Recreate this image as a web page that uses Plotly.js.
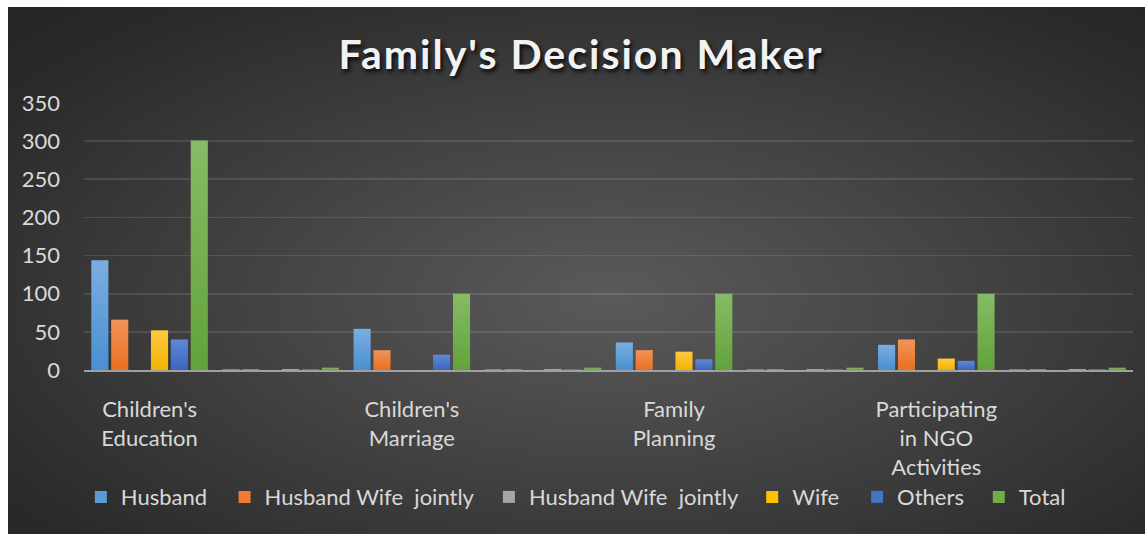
<!DOCTYPE html>
<html>
<head>
<meta charset="utf-8">
<script src="https://cdn.plot.ly/plotly-3.0.1.min.js"></script>
<style>
  html, body { margin: 0; padding: 0; background: #ffffff; }
  #chart {
    position: absolute; left: 8px; top: 7px; width: 1137px; height: 527px;
    background: radial-gradient(ellipse farthest-corner at 53% 55%, #5a5a5a 0%, #444444 40%, #2a2a2a 85%, #252525 100%);
  }
  #defs { position: absolute; width: 0; height: 0; overflow: hidden; }
  .gtitle { letter-spacing: 2px; }
  #chart .barlayer .trace:nth-child(1) path { fill: url(#g0) !important; }
  #chart .barlayer .trace:nth-child(2) path { fill: url(#g1) !important; }
  #chart .barlayer .trace:nth-child(3) path { fill: url(#g2) !important; }
  #chart .barlayer .trace:nth-child(4) path { fill: url(#g3) !important; }
  #chart .barlayer .trace:nth-child(5) path { fill: url(#g4) !important; }
  #chart .barlayer .trace:nth-child(6) path { fill: url(#g5) !important; }
</style>
</head>
<body>
<svg id="defs" aria-hidden="true">
  <defs>
    <linearGradient id="g0" x1="0" y1="0" x2="0" y2="1"><stop offset="0" stop-color="#7aaee0"/><stop offset="1" stop-color="#4a8fd0"/></linearGradient>
    <linearGradient id="g1" x1="0" y1="0" x2="0" y2="1"><stop offset="0" stop-color="#f2945c"/><stop offset="1" stop-color="#e8701f"/></linearGradient>
    <linearGradient id="g2" x1="0" y1="0" x2="0" y2="1"><stop offset="0" stop-color="#b5b5b5"/><stop offset="1" stop-color="#959595"/></linearGradient>
    <linearGradient id="g3" x1="0" y1="0" x2="0" y2="1"><stop offset="0" stop-color="#ffc942"/><stop offset="1" stop-color="#f0b400"/></linearGradient>
    <linearGradient id="g4" x1="0" y1="0" x2="0" y2="1"><stop offset="0" stop-color="#5f89d6"/><stop offset="1" stop-color="#3a66bf"/></linearGradient>
    <linearGradient id="g5" x1="0" y1="0" x2="0" y2="1"><stop offset="0" stop-color="#86bc66"/><stop offset="1" stop-color="#62a23a"/></linearGradient>
  </defs>
</svg>
<div id="chart"></div>
<script>
// ---- data ----
const categories = ["Children's<br>Education", "", "Children's<br>Marriage", "", "Family<br>Planning", "", "Participating<br>in NGO<br>Activities", ""];
const seriesNames = ["Husband", "Husband Wife\u00a0 jointly", "Husband Wife\u00a0 jointly", "Wife", "Others", "Total"];
const husband      = [144, 1, 54, 1, 36, 1, 33, 1];
const husbandWife  = [66, 1, 26, 1, 26, 1, 40, 1];
const husbandWife2 = [0, 0, 0, 0, 0, 0, 0, 0];
const wife         = [52, 1, 0, 1, 24, 1, 15, 1];
const others       = [40, 1, 20, 1, 14, 1, 12, 1];
const total        = [301, 3, 100, 3, 100, 3, 100, 3];
const yTicks = [0, 50, 100, 150, 200, 250, 300, 350];

const seriesValues = [husband, husbandWife, husbandWife2, wife, others, total];
const seriesColors = ["#5B9BD5", "#ED7D31", "#A5A5A5", "#FFC000", "#4472C4", "#70AD47"];

const xIdx = categories.map((c, i) => i);
const FONT = "Lato, 'Open Sans', sans-serif";

// legend item positions (paper x fraction) – one legend per series
const legendX = [-0.003, 0.134, 0.386, 0.637, 0.737, 0.853];
const legendKeys = ["legend", "legend2", "legend3", "legend4", "legend5", "legend6"];

const traces = seriesValues.map((vals, k) => ({
  type: "bar",
  name: seriesNames[k],
  x: xIdx,
  y: vals,
  legend: legendKeys[k],
  marker: { color: seriesColors[k], line: { width: 0 } },
  hoverinfo: "x+y+name"
}));

const layout = {
  width: 1137,
  height: 527,
  paper_bgcolor: "rgba(0,0,0,0)",
  plot_bgcolor: "rgba(0,0,0,0)",
  margin: { l: 76, r: 12, t: 96, b: 164 },
  barmode: "group",
  bargap: 0.09,
  bargroupgap: 0.14,
  title: {
    text: "Family's Decision Maker",
    x: 0.504, xanchor: "center",
    y: 0.909, yanchor: "middle", yref: "container",
    font: { family: FONT, size: 41, color: "#f2f2f2", weight: 700, shadow: "2px 3px 4px rgba(0,0,0,0.85)" }
  },
  xaxis: {
    tickmode: "array",
    tickvals: xIdx,
    ticktext: categories,
    range: [-0.5, categories.length - 0.5],
    showgrid: false,
    zeroline: false,
    showline: true,
    linecolor: "#a0a0a0",
    linewidth: 2,
    ticks: "",
    ticklabelstandoff: 19,
    tickfont: { family: FONT, size: 22, color: "#d9d9d9" },
    fixedrange: true
  },
  yaxis: {
    range: [0, 350],
    tickmode: "array",
    tickvals: yTicks,
    ticktext: yTicks.map(String),
    showgrid: true,
    gridcolor: "rgba(255,255,255,0.11)",
    gridwidth: 1.6,
    zeroline: false,
    showline: false,
    ticks: "",
    ticklabelstandoff: 23,
    tickfont: { family: FONT, size: 22, color: "#d9d9d9" },
    fixedrange: true
  },
  showlegend: true
};

legendKeys.forEach((key, k) => {
  layout[key] = {
    orientation: "h",
    x: legendX[k], xanchor: "left",
    y: -0.476, yanchor: "middle",
    font: { family: FONT, size: 22, color: "#d9d9d9" },
    bgcolor: "rgba(0,0,0,0)",
    borderwidth: 0
  };
});

Plotly.newPlot("chart", traces, layout, { displayModeBar: false, staticPlot: true });
</script>
</body>
</html>
